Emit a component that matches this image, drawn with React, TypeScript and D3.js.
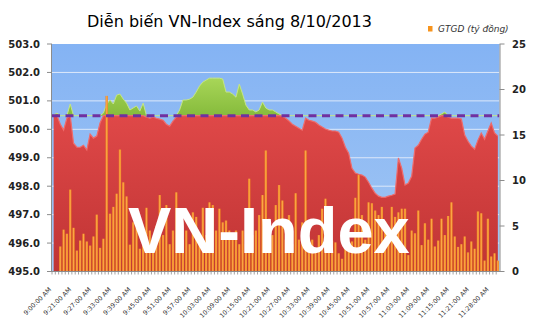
import React from 'react';
import * as d3 from 'd3';

const TITLE = 'Diễn biến VN-Index sáng 8/10/2013';
const LEGEND = 'GTGD (tỷ đồng)';
const WATERMARK = 'VN-Index';
const referenceLevel = 500.48;

const categories = [
  '9:00', '9:16', '9:17', '9:18', '9:19', '9:20', '9:21', '9:22', '9:23', '9:24',
  '9:25', '9:26', '9:27', '9:28', '9:29', '9:30', '9:31', '9:32', '9:33', '9:34',
  '9:35', '9:36', '9:37', '9:38', '9:39', '9:40', '9:41', '9:42', '9:43', '9:44',
  '9:45', '9:46', '9:47', '9:48', '9:49', '9:50', '9:51', '9:52', '9:53', '9:54',
  '9:55', '9:56', '9:57', '9:58', '9:59', '10:00', '10:01', '10:02', '10:03', '10:04',
  '10:05', '10:06', '10:07', '10:08', '10:09', '10:10', '10:11', '10:12', '10:13', '10:14',
  '10:15', '10:16', '10:17', '10:18', '10:19', '10:20', '10:21', '10:22', '10:23', '10:24',
  '10:25', '10:26', '10:27', '10:28', '10:29', '10:30', '10:31', '10:32', '10:33', '10:34',
  '10:35', '10:36', '10:37', '10:38', '10:39', '10:40', '10:41', '10:42', '10:43', '10:44',
  '10:45', '10:46', '10:47', '10:48', '10:49', '10:50', '10:51', '10:52', '10:53', '10:54',
  '10:55', '10:56', '10:57', '10:58', '10:59', '11:00', '11:01', '11:02', '11:03', '11:04',
  '11:05', '11:06', '11:07', '11:08', '11:09', '11:10', '11:11', '11:12', '11:13', '11:14',
  '11:15', '11:16', '11:17', '11:18', '11:19', '11:20', '11:21', '11:22', '11:23', '11:24',
  '11:26', '11:27', '11:28', '11:29', '11:30',
];

const tickLabels = [
  '9:00', '9:21', '9:27', '9:33', '9:39', '9:45', '9:51', '9:57', '10:03', '10:09', '10:15', '10:21',
  '10:27', '10:33', '10:39', '10:45', '10:51', '10:57', '11:03', '11:09', '11:15', '11:21', '11:28',
];

const indexValues = [
  500.50, 500.57, 500.18, 499.97, 500.39, 500.89, 499.51, 499.37, 499.37, 499.44,
  499.27, 499.83, 499.69, 499.76, 500.22, 500.57, 500.89, 501.03, 500.89, 501.20,
  501.24, 501.06, 500.92, 500.68, 500.75, 500.82, 500.64, 500.92, 500.43, 500.39,
  500.43, 500.39, 500.36, 500.32, 500.18, 500.11, 500.29, 500.43, 500.68, 501.03,
  501.03, 501.06, 501.13, 501.31, 501.52, 501.66, 501.73, 501.80, 501.80, 501.80,
  501.80, 501.77, 501.31, 501.31, 501.24, 501.13, 501.59, 501.24, 500.85, 500.68,
  500.68, 500.61, 500.68, 500.96, 500.75, 500.68, 500.68, 500.61, 500.54, 500.46,
  500.39, 500.29, 500.18, 500.11, 500.04, 499.97, 500.39, 500.32, 500.29, 500.25,
  500.15, 500.08, 500.01, 499.97, 499.94, 499.94, 499.90, 499.69, 499.37, 499.16,
  498.63, 498.46, 498.42, 498.39, 498.32, 498.14, 497.93, 497.75, 497.65, 497.61,
  497.61, 497.65, 497.68, 497.72, 498.99, 498.63, 498.04, 498.11, 498.35, 499.34,
  499.44, 499.65, 499.83, 499.90, 500.39, 500.39, 500.43, 500.54, 500.61, 500.43,
  500.39, 500.39, 500.39, 500.36, 499.80, 499.58, 499.41, 499.30, 499.62, 499.87,
  499.65, 499.94, 500.22, 499.87, 499.76,
];

const volumeValues = [
  0, 0, 2.75, 4.6, 4.15, 9.0, 4.8, 2.3, 3.4, 4.15,
  3.3, 2.85, 3.85, 6.25, 2.6, 3.6, 19.3, 6.35, 7.1, 8.55,
  13.4, 9.8, 8.25, 2.95, 5.4, 4.8, 2.5, 4.0, 7.0, 4.5,
  3.5, 5.0, 8.4, 4.0, 7.3, 3.0, 4.5, 8.7, 5.5, 3.5,
  4.5, 3.0, 6.5, 6.0, 3.5, 7.0, 4.0, 7.6, 7.3, 4.5,
  6.9, 5.4, 5.6, 4.5, 3.5, 4.5, 3.0, 4.5, 3.0, 10.2,
  4.0, 4.5, 6.2, 8.4, 13.3, 5.8, 4.0, 7.3, 9.5, 7.8,
  3.5, 6.2, 3.0, 8.6, 3.5, 5.4, 13.3, 3.0, 3.5, 2.5,
  4.0, 6.9, 8.0, 3.5, 3.4, 3.2, 2.0, 1.4, 2.5, 3.0,
  3.3, 8.1, 10.6, 6.2, 3.5, 7.6, 7.5, 6.7, 6.2, 7.1,
  5.5, 4.5, 7.1, 6.0, 6.5, 6.9, 6.9, 1.8, 4.5, 4.2,
  6.7, 2.9, 5.3, 3.5, 5.8, 2.75, 3.4, 5.8, 4.0, 6.1,
  7.6, 3.85, 2.7, 3.0, 3.85, 2.1, 3.3, 2.5, 6.6, 6.4,
  1.2, 5.8, 1.65, 2.0, 1.2,
];

const leftTicks = [495, 496, 497, 498, 499, 500, 501, 502, 503];
const rightTicks = [0, 5, 10, 15, 20, 25];

export default function App() {
  const W = 535;
  const H = 335;
  const L = 52;
  const R = 499.5;
  const T = 44;
  const B = 271.5;

  const x = d3.scaleBand<string>().domain(categories).range([L, R]).paddingInner(0.3).paddingOuter(0.15);
  const step = x.step();
  const cx = (i: number) => (x(categories[i]) as number) + x.bandwidth() / 2;
  const yL = d3.scaleLinear().domain([495, 503]).range([B, T]);
  const yR = d3.scaleLinear().domain([0, 25]).range([B, T]);

  const redArea = d3.area<number>()
    .x((_, i) => cx(i))
    .y0(yL(495))
    .y1((d) => yL(Math.min(d, referenceLevel)));
  const redTop = d3.line<number>()
    .x((_, i) => cx(i))
    .y((d) => yL(Math.min(d, referenceLevel)));
  const greenArea = d3.area<number>()
    .x((_, i) => cx(i))
    .y0(yL(referenceLevel))
    .y1((d) => yL(Math.max(d, referenceLevel)));
  const greenTop = d3.line<number>()
    .x((_, i) => cx(i))
    .y((d) => yL(Math.max(d, referenceLevel)));

  const axisFont = 'DejaVu Sans, Verdana, sans-serif';

  return (
    <svg width={W} height={H} style={{ position: 'absolute', left: 0, top: 0, background: '#fff' }}>
      <defs>
        <linearGradient id="bg" x1="0" y1="0" x2="0" y2="1">
          <stop offset="0" stopColor="#84B3F4" />
          <stop offset="1" stopColor="#A2C7F3" />
        </linearGradient>
        <linearGradient id="red" x1="0" y1="0" x2="0" y2="1">
          <stop offset="0" stopColor="#DF4848" />
          <stop offset="1" stopColor="#C03434" />
        </linearGradient>
        <linearGradient id="green" x1="0" y1="0" x2="0" y2="1">
          <stop offset="0" stopColor="#A8D658" />
          <stop offset="1" stopColor="#86BB3C" />
        </linearGradient>
        <linearGradient id="bar" x1="0" y1="0" x2="1" y2="0">
          <stop offset="0" stopColor="#EE8420" />
          <stop offset="0.5" stopColor="#FBA846" />
          <stop offset="1" stopColor="#EE8420" />
        </linearGradient>
        <clipPath id="plot">
          <rect x={L} y={T} width={R - L} height={B - T} />
        </clipPath>
      </defs>

      <text x={229.5} y={27} textAnchor="middle" fontFamily={axisFont} fontSize={16} fill="#000">{TITLE}</text>
      <rect x={428} y={26} width={4.5} height={5.5} fill="#F7941D" />
      <text x={438} y={32} fontFamily={axisFont} fontSize={9} fontStyle="italic" fill="#333">{LEGEND}</text>

      <rect x={L} y={T} width={R - L} height={B - T} fill="url(#bg)" />
      {leftTicks.filter((t) => t !== 495 && t !== 503).map((t) => (
        <line key={'g' + t} x1={L} x2={R} y1={yL(t)} y2={yL(t)} stroke="#DCE8FA" strokeWidth={1} />
      ))}

      <g clipPath="url(#plot)">
        <path d={redArea(indexValues) || ''} fill="url(#red)" />
        <path d={greenArea(indexValues) || ''} fill="url(#green)" />
        <path d={greenTop(indexValues) || ''} fill="none" stroke="#C4E585" strokeWidth={1} />
        <path d={redTop(indexValues) || ''} fill="none" stroke="#EE6B6B" strokeWidth={1.2} />
        {volumeValues.map((v, i) => (
          <rect key={'b' + i} x={x(categories[i])} y={yR(v)} width={x.bandwidth()} height={yR(0) - yR(v)} fill="url(#bar)" />
        ))}
        <line x1={L} x2={R} y1={yL(referenceLevel)} y2={yL(referenceLevel)} stroke="#7030A0" strokeWidth={3} strokeDasharray="8 5.5" />
      </g>

      <text x={128} y={253} fontFamily="Liberation Sans, Arial, sans-serif" fontWeight="bold" fontSize={65} fill="#fff">{WATERMARK}</text>

      {/* left axis */}
      <line x1={L - 0.5} x2={L - 0.5} y1={T} y2={B} stroke="#8C8C8C" />
      {leftTicks.map((t) => (
        <g key={'l' + t}>
          <line x1={L - 5} x2={L} y1={yL(t)} y2={yL(t)} stroke="#8C8C8C" />
          <text x={40} y={yL(t)} dy="0.36em" textAnchor="end" fontFamily={axisFont} fontWeight="bold" fontSize={10} fill="#222">{t.toFixed(1)}</text>
        </g>
      ))}
      {/* right axis */}
      <line x1={R + 0.5} x2={R + 0.5} y1={T} y2={B} stroke="#8C8C8C" />
      {rightTicks.map((t) => (
        <g key={'r' + t}>
          <line x1={R} x2={R + 5} y1={yR(t)} y2={yR(t)} stroke="#8C8C8C" />
          <text x={512} y={yR(t)} dy="0.36em" textAnchor="start" fontFamily={axisFont} fontWeight="bold" fontSize={10} fill="#222">{t}</text>
        </g>
      ))}
      {/* bottom axis */}
      <line x1={L - 0.5} x2={R + 0.5} y1={B} y2={B} stroke="#8C8C8C" />
      {categories.map((c, i) => {
        const bx = (x(c) as number) - (step - x.bandwidth()) / 2;
        return <line key={'t' + i} x1={bx} x2={bx} y1={B} y2={B + 3} stroke="#8C8C8C" strokeWidth={0.8} />;
      })}
      {tickLabels.map((t) => {
        const tx = (x(t) as number) + x.bandwidth() / 2 - 2;
        const ty = 290;
        return (
          <text key={'x' + t} x={tx} y={ty} transform={`rotate(-45 ${tx} ${ty})`} textAnchor="end" fontFamily={axisFont} fontSize={6.3} fill="#333">{t + ':00 AM'}</text>
        );
      })}
    </svg>
  );
}
